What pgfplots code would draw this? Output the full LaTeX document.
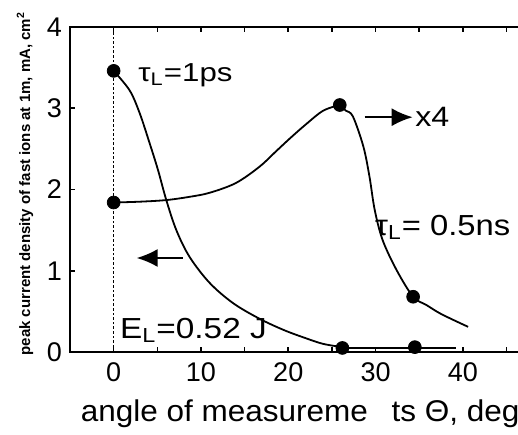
\documentclass[border=0pt]{standalone}
\usepackage{fontspec}
\setmainfont{Liberation Sans}
\usepackage{pgfplots}
\pgfplotsset{compat=1.18}
\usetikzlibrary{arrows.meta}
\begin{document}
\begin{tikzpicture}
\useasboundingbox (-35pt,-41pt) rectangle (224pt,176pt);
\begin{axis}[
 at={(0,0)}, anchor=south west,
 scale only axis, width=227pt, height=162.5pt,
 xmin=-5, xmax=47, ymin=0, ymax=4,
 xtick={0,10,20,30,40}, minor xtick={5,15,25,35,45},
 ytick={0,1,2,3,4},
 tick align=inside, xtick pos=both, ytick pos=left,
 major tick length=2.5pt, minor tick length=2.5pt,
 every tick/.style={black, line width=0.8pt},
 axis line style={line width=1pt},
 /pgf/number format/assume math mode=true,
 ticklabel style={font=\fontsize{13.5}{15}\selectfont},
 xticklabel style={anchor=base, yshift=-14.5pt},
 yticklabel style={xshift=-0.5pt},
 xlabel={\scalebox{1.05}[1]{angle of measureme\hspace{0.75em}ts Θ, deg}},
 xlabel style={at={(axis description cs:0.507,0)}, anchor=base, yshift=-34.5pt, font=\fontsize{15}{17}\selectfont},
 ylabel={peak current density of fast ions at 1m, mA, cm\textsuperscript{2}},
 ylabel style={at={(axis description cs:-0.099,0.518)}, anchor=center, font=\fontsize{7.5}{9}\bfseries},
 clip=false,
]
% dotted vertical line at 0
\addplot[black, line width=0.6pt, dash pattern=on 1.3pt off 1pt] coordinates {(0,0) (0,4)};
% tau = 1 ps
\addplot[black, line width=0.9pt, smooth, tension=0.55] coordinates {
 (0,3.46) (1.83,3.22) (2.98,2.94) (4.12,2.57) (5.08,2.24) (6.03,1.87) (7.18,1.50) (8.7,1.17)
 (11,0.85) (13.7,0.60) (16.7,0.41) (19.5,0.27) (22,0.17) (24,0.1) (26.2,0.06)};
\addplot[black, line width=0.9pt] coordinates {(26.2,0.05) (39.2,0.05)};
% tau = 0.5 ns
\addplot[black, line width=0.9pt, smooth, tension=0.55] coordinates {
 (0,1.84) (3,1.85) (6.03,1.87) (8.7,1.91) (11,1.96) (14,2.08) (16.7,2.28) (18.5,2.46) (20.2,2.63) (22,2.8)
 (24,2.97) (25.9,3.04)};
\addplot[black, line width=0.9pt, smooth, tension=0.55] coordinates {
 (25.9,3.04) (26.6,2.97) (27.4,2.90) (28.6,2.53) (29.3,2.16) (29.9,1.75) (30.8,1.38) (32.4,1.01)
 (34.3,0.68) (35.8,0.58) (37.3,0.48) (39,0.39) (40.6,0.31)};
% dots
\addplot[only marks, mark=*, mark size=3.2pt, black] coordinates {
 (0,3.46) (26.2,0.05) (34.5,0.06) (0,1.84) (25.9,3.04) (34.3,0.68)};
% annotations
\node[anchor=base west, font=\fontsize{13}{15}\selectfont, inner sep=0pt] at (axis cs:2.78,3.33) {\scalebox{1.2}[1]{τ\textsubscript{L}=1ps}};
\node[anchor=base west, font=\fontsize{14.5}{16}\selectfont, inner sep=0pt] at (axis cs:29.9,1.44) {\scalebox{1.13}[1]{τ\textsubscript{L}= 0.5ns}};
\node[anchor=base west, font=\fontsize{14.5}{16}\selectfont, inner sep=0pt] at (axis cs:0.69,0.17) {\scalebox{1.15}[1]{E\textsubscript{L}=0.52 J}};
\node[anchor=base west, font=\fontsize{14}{16}\selectfont, inner sep=0pt] at (axis cs:34.5,2.77) {\scalebox{1.15}[1]{x4}};
\draw[line width=1pt, -{Latex[length=10.5pt,width=9pt]}] (axis cs:28.75,2.89) -- (axis cs:34.25,2.89);
\draw[line width=1pt, -{Latex[length=10.5pt,width=9pt]}] (axis cs:7.9,1.157) -- (axis cs:2.63,1.157);
\end{axis}
\end{tikzpicture}
\end{document}
